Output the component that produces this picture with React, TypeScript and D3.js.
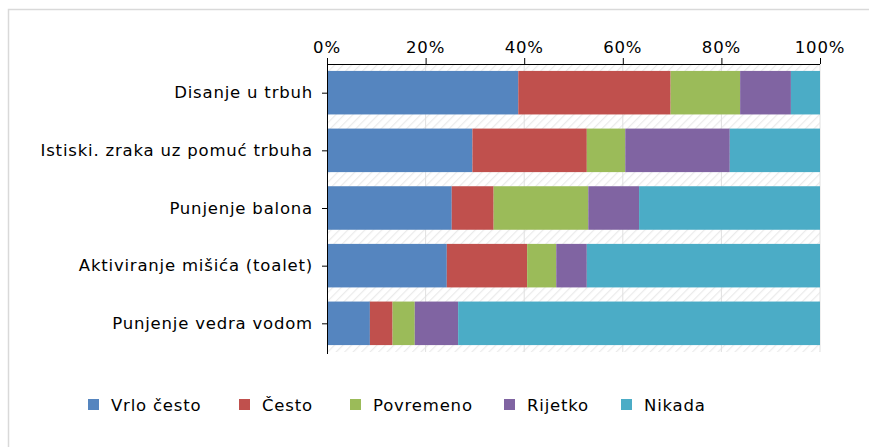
import React from "react";
import * as d3 from "d3";

const categories = [
  "Disanje u trbuh",
  "Istiski. zraka uz pomuć trbuha",
  "Punjenje balona",
  "Aktiviranje mišića (toalet)",
  "Punjenje vedra vodom",
];
const seriesNames = ["Vrlo često", "Često", "Povremeno", "Rijetko", "Nikada"];
const seriesColors = ["#5585bf", "#c0504d", "#9bbb59", "#8064a2", "#4bacc6"];
const vrloCesto = [38.8, 29.5, 25.3, 24.3, 8.7];
const cesto = [30.9, 23.2, 8.5, 16.3, 4.6];
const povremeno = [14.1, 7.8, 19.2, 5.9, 4.5];
const rijetko = [10.3, 21.2, 10.3, 6.2, 8.8];
const nikada = [5.9, 18.3, 36.7, 47.3, 73.4];
const tickValues = [0, 20, 40, 60, 80, 100];

const FONT = "'DejaVu Sans', Verdana, sans-serif";

export default function App() {
  const W = 869, H = 447;
  const left = 327, right = 820, top = 64, bottom = 352;
  const x = d3.scaleLinear().domain([0, 100]).range([left, right]);
  const y = d3.scaleBand<string>().domain(categories).range([top, bottom]).paddingInner(0.245).paddingOuter(0.12);
  const seriesData = [vrloCesto, cesto, povremeno, rijetko, nikada];
  const table = categories.map((c, i) => {
    const row: any = { cat: c };
    seriesNames.forEach((s, k) => (row[s] = seriesData[k][i]));
    return row;
  });
  const stacked = d3.stack<any>().keys(seriesNames)(table);
  const legendX = [88, 239, 350, 504, 621];
  const fs = 16.5;
  const ls = 0.8;

  return (
    <svg width={W} height={H} style={{ position: "absolute", left: 0, top: 0, background: "#fff" }} fontFamily={FONT}>
      <defs>
        <pattern id="hatch" width="6" height="6" patternUnits="userSpaceOnUse" patternTransform="rotate(45)">
          <rect width="6" height="6" fill="#ffffff" />
          <line x1="0" y1="0" x2="0" y2="6" stroke="#ebebeb" strokeWidth="2.5" />
        </pattern>
      </defs>
      <rect x={0} y={0} width={W} height={H} fill="#fff" />
      <rect x={8.5} y={9.5} width={W + 10} height={H + 10} fill="none" stroke="#d9d9d9" strokeWidth={1.5} />
      <rect x={left} y={top} width={right - left} height={bottom - top} fill="url(#hatch)" />
      {tickValues.slice(1).map((t) => (
        <line key={"g" + t} x1={x(t)} x2={x(t)} y1={top} y2={bottom} stroke="#e0e0e0" strokeWidth={1} />
      ))}
      {stacked.map((s, k) =>
        s.map((d, i) => (
          <rect
            key={k + "-" + i}
            x={x(d[0])}
            width={x(d[1]) - x(d[0])}
            y={y(categories[i])}
            height={y.bandwidth()}
            fill={seriesColors[k]}
          />
        ))
      )}
      {/* top axis */}
      <line x1={left} x2={right} y1={top + 0.5} y2={top + 0.5} stroke="#000" strokeWidth={1} />
      {tickValues.map((t) => (
        <g key={"t" + t}>
          <line x1={x(t) + 0.5} x2={x(t) + 0.5} y1={top - 6} y2={top} stroke="#000" />
          <text x={x(t)} y={top - 11} textAnchor="middle" fontSize={fs} letterSpacing={ls} fill="#000">
            {t}%
          </text>
        </g>
      ))}
      {/* left axis */}
      <line x1={left + 0.5} x2={left + 0.5} y1={top} y2={bottom + 2} stroke="#000" strokeWidth={1} />
      {categories.map((c) => {
        const cy = (y(c) as number) + y.bandwidth() / 2;
        return (
          <g key={c}>
            <line x1={left - 5} x2={left} y1={cy + 0.5} y2={cy + 0.5} stroke="#000" />
            <text x={left - 14} y={cy} dy="0.35em" textAnchor="end" fontSize={fs} letterSpacing={ls} fill="#000">
              {c}
            </text>
          </g>
        );
      })}
      {/* legend */}
      {seriesNames.map((s, k) => (
        <g key={s} transform={`translate(${legendX[k]},405)`}>
          <rect x={0} y={-6} width={11} height={11} fill={seriesColors[k]} />
          <text x={23} y={0} dy="0.35em" fontSize={fs} letterSpacing={ls} fill="#000">
            {s}
          </text>
        </g>
      ))}
    </svg>
  );
}
